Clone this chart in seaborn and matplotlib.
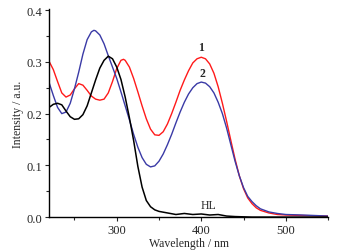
import numpy as np
import pandas as pd
import seaborn as sns
import matplotlib.pyplot as plt
from matplotlib.ticker import MultipleLocator

# HL (black)
wl_hl = [220, 225, 230, 235, 240, 245, 250, 255, 260, 265, 270, 275, 280, 285, 290,
         295, 300, 305, 310, 315, 320, 325, 330, 335, 340, 345, 350, 360, 370, 380,
         390, 400, 410, 420, 430, 440, 460, 500, 550]
int_hl = [0.212, 0.218, 0.220, 0.217, 0.205, 0.194, 0.189, 0.190, 0.198, 0.215, 0.240,
          0.265, 0.288, 0.303, 0.311, 0.306, 0.290, 0.266, 0.232, 0.192, 0.148, 0.098,
          0.058, 0.032, 0.020, 0.014, 0.011, 0.008, 0.005, 0.007, 0.005, 0.006, 0.004,
          0.005, 0.002, 0.001, 0.0, 0.0, 0.0]

# complex 1 (red)
wl_1 = [220, 225, 230, 235, 240, 245, 250, 255, 260, 265, 270, 275, 280, 285, 290,
        295, 300, 305, 308, 310, 315, 320, 325, 330, 335, 340, 345, 350, 355, 360,
        365, 370, 375, 380, 385, 390, 395, 400, 405, 410, 415, 420, 425, 430, 435,
        440, 445, 450, 455, 460, 465, 470, 480, 490, 500, 520, 550]
int_1 = [0.301, 0.285, 0.262, 0.240, 0.232, 0.236, 0.248, 0.258, 0.255, 0.245, 0.234,
         0.228, 0.226, 0.228, 0.240, 0.262, 0.287, 0.303, 0.305, 0.303, 0.290, 0.268,
         0.242, 0.215, 0.190, 0.170, 0.159, 0.158, 0.165, 0.180, 0.200, 0.222, 0.245,
         0.265, 0.283, 0.298, 0.306, 0.309, 0.306, 0.296, 0.278, 0.252, 0.220, 0.185,
         0.148, 0.112, 0.080, 0.055, 0.037, 0.026, 0.018, 0.013, 0.008, 0.005, 0.004,
         0.003, 0.002]

# complex 2 (blue)
wl_2 = [220, 225, 230, 235, 240, 245, 250, 255, 260, 265, 270, 273, 275, 280, 285,
        290, 295, 300, 305, 310, 315, 320, 325, 330, 335, 340, 345, 350, 355, 360,
        365, 370, 375, 380, 385, 390, 395, 400, 405, 410, 415, 420, 425, 430, 435,
        440, 445, 450, 455, 460, 465, 470, 480, 490, 500, 520, 550]
int_2 = [0.260, 0.235, 0.212, 0.200, 0.203, 0.220, 0.248, 0.280, 0.315, 0.343, 0.358,
         0.361, 0.360, 0.352, 0.335, 0.312, 0.290, 0.268, 0.242, 0.215, 0.188, 0.160,
         0.135, 0.115, 0.102, 0.097, 0.099, 0.108, 0.122, 0.140, 0.160, 0.182, 0.203,
         0.222, 0.238, 0.250, 0.258, 0.261, 0.259, 0.252, 0.240, 0.222, 0.200, 0.172,
         0.140, 0.108, 0.080, 0.057, 0.040, 0.030, 0.022, 0.016, 0.010, 0.007, 0.005,
         0.004, 0.002]

sns.set_style("ticks")
plt.rcParams['font.family'] = ['Liberation Serif', 'DejaVu Serif']

fig = plt.figure(figsize=(3.41, 2.53), dpi=100)
ax = fig.add_axes([0.144, 0.138, 0.818, 0.822])

sns.lineplot(x=wl_1, y=int_1, ax=ax, color='#ff1a1a', lw=1.0)
sns.lineplot(x=wl_2, y=int_2, ax=ax, color='#3a3aa6', lw=1.0)
sns.lineplot(x=wl_hl, y=int_hl, ax=ax, color='black', lw=1.1)

ax.set_xlim(220, 550)
ax.set_ylim(0, 0.402)
ax.xaxis.set_major_locator(MultipleLocator(100))
ax.xaxis.set_minor_locator(MultipleLocator(50))
ax.yaxis.set_major_locator(MultipleLocator(0.1))
ax.yaxis.set_minor_locator(MultipleLocator(0.05))
ax.set_yticks([0.0, 0.1, 0.2, 0.3, 0.4])
ax.set_yticklabels(['0.0', '0.1', '0.2', '0.3', '0.4'])
ax.tick_params(which='major', direction='out', length=3, width=0.8, labelsize=9, pad=2)
ax.tick_params(which='minor', direction='out', length=2, width=0.8)
sns.despine(ax=ax)
for s in ['left', 'bottom']:
    ax.spines[s].set_linewidth(1.0)
    ax.spines[s].set_color('black')

ax.set_xlabel('Wavelength / nm', fontsize=8.5, labelpad=1)
ax.set_ylabel('Intensity / a.u.', fontsize=8.5, labelpad=2)

ax.text(400, 0.317, '1', fontsize=8.5, fontweight='bold', ha='center', va='bottom')
ax.text(401, 0.267, '2', fontsize=8.5, fontweight='bold', ha='center', va='bottom')
ax.text(409, 0.011, 'HL', fontsize=8.5, ha='center', va='bottom')

fig.savefig('out.png', dpi=100)
